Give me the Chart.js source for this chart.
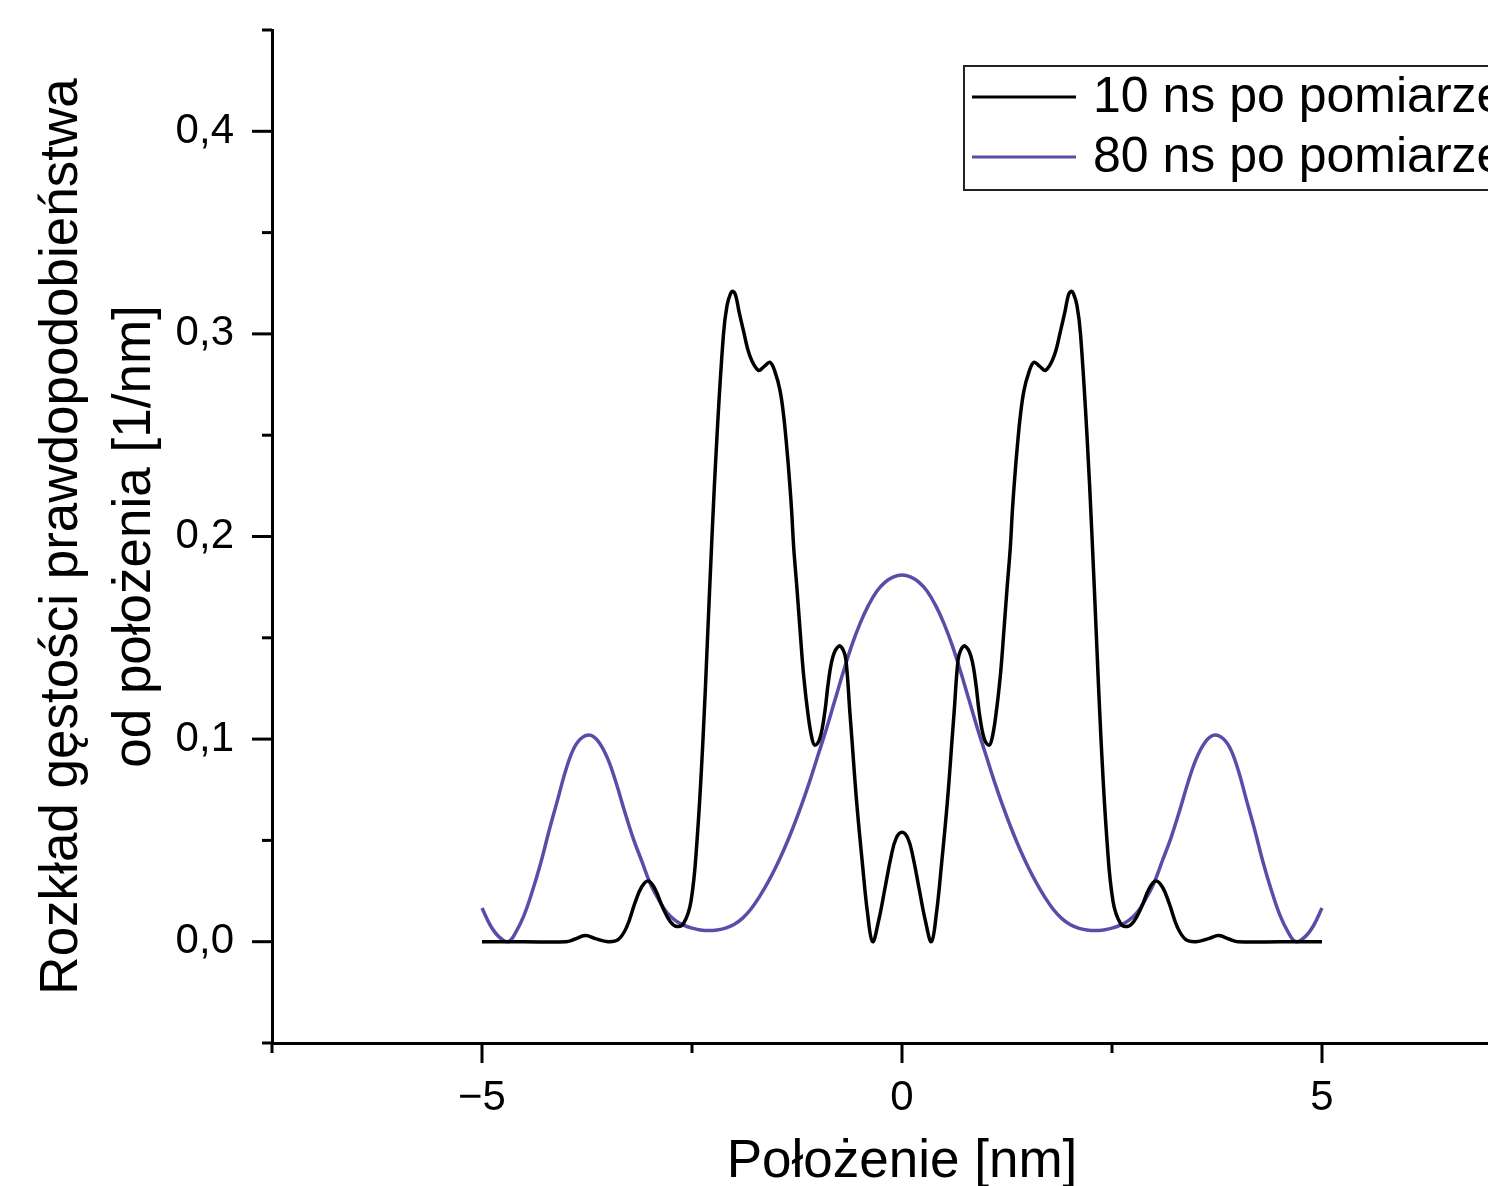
<!DOCTYPE html>
<html>
<head>
<meta charset="utf-8">
<script src="https://cdn.jsdelivr.net/npm/chart.js@4.4.1/dist/chart.umd.min.js"></script>
<style>
  html, body { margin: 0; padding: 0; background: #fff; overflow: hidden; }
  #wrap { width: 1560px; height: 1186px; }
</style>
</head>
<body>
<div id="wrap"><canvas id="chart" width="1560" height="1186"></canvas></div>
<script>
// positions [nm] and densities
const xBlack = [
  -5.0, -4.5, -4.0, -3.9, -3.77, -3.65, -3.5, -3.38, -3.28, -3.18, -3.1, -3.02, -2.94, -2.85, -2.76, -2.68, -2.6,
  -2.512, -2.44, -2.369, -2.315, -2.262, -2.202, -2.125, -2.083, -2.04, -2.012, -1.98, -1.94, -1.89, -1.81,
  -1.71, -1.64, -1.571, -1.51, -1.452, -1.41, -1.373, -1.34, -1.313, -1.29, -1.25, -1.214, -1.17, -1.115, -1.07, -1.036,
  -0.98, -0.92, -0.877, -0.82, -0.75, -0.7, -0.667, -0.62, -0.6, -0.54, -0.47, -0.41, -0.35, -0.28, -0.2, -0.13, -0.07, 0,
  0.07, 0.13, 0.2, 0.28, 0.35, 0.41, 0.47, 0.54, 0.6, 0.62, 0.667, 0.7, 0.75, 0.82, 0.877, 0.92, 0.98,
  1.036, 1.07, 1.115, 1.17, 1.214, 1.25, 1.29, 1.313, 1.34, 1.373, 1.41, 1.452, 1.51, 1.571, 1.64, 1.71,
  1.81, 1.89, 1.94, 1.98, 2.012, 2.04, 2.083, 2.125, 2.202, 2.262, 2.315, 2.369, 2.44, 2.512,
  2.6, 2.68, 2.76, 2.85, 2.94, 3.02, 3.1, 3.18, 3.28, 3.38, 3.5, 3.65, 3.77, 3.9, 4.0, 4.5, 5.0
];
const ns10 = [
  0, 0, 0, 0.0012, 0.003, 0.0015, 0, 0.001, 0.007, 0.019, 0.027, 0.030, 0.026, 0.017, 0.010, 0.0075, 0.009,
  0.02, 0.05, 0.1, 0.15, 0.2, 0.25, 0.3, 0.314, 0.32, 0.321, 0.319, 0.311, 0.302, 0.289,
  0.282, 0.284, 0.286, 0.281, 0.272, 0.26, 0.2445, 0.228, 0.212, 0.195, 0.174, 0.154, 0.131, 0.111, 0.1, 0.097,
  0.100, 0.113, 0.128, 0.141, 0.146, 0.144, 0.139, 0.113, 0.102, 0.069, 0.038, 0.014, 0, 0.010, 0.027, 0.042, 0.051, 0.054,
  0.051, 0.042, 0.027, 0.010, 0, 0.014, 0.038, 0.069, 0.102, 0.113, 0.139, 0.144, 0.146, 0.141, 0.128, 0.113, 0.100,
  0.097, 0.1, 0.111, 0.131, 0.154, 0.174, 0.195, 0.212, 0.228, 0.2445, 0.26, 0.272, 0.281, 0.286, 0.284, 0.282,
  0.289, 0.302, 0.311, 0.319, 0.321, 0.32, 0.314, 0.3, 0.25, 0.2, 0.15, 0.1, 0.05, 0.02,
  0.009, 0.0075, 0.010, 0.017, 0.026, 0.030, 0.027, 0.019, 0.007, 0.001, 0, 0.0015, 0.003, 0.0012, 0, 0, 0
];

const xBlue = [
  -5.0, -4.9, -4.8, -4.69, -4.6, -4.5, -4.4, -4.3, -4.2, -4.1, -4.0, -3.9, -3.8, -3.7, -3.6,
  -3.5, -3.4, -3.3, -3.2, -3.1, -3.0, -2.9, -2.8, -2.7, -2.6, -2.5, -2.4, -2.3, -2.2, -2.1,
  -2.0, -1.9, -1.8, -1.7, -1.6, -1.5, -1.4, -1.3, -1.2, -1.1, -1.0, -0.9, -0.8, -0.7, -0.6,
  -0.5, -0.4, -0.3, -0.2, -0.1, 0,
  0.1, 0.2, 0.3, 0.4, 0.5, 0.6, 0.7, 0.8, 0.9, 1.0, 1.1, 1.2, 1.3, 1.4, 1.5,
  1.6, 1.7, 1.8, 1.9, 2.0, 2.1, 2.2, 2.3, 2.4, 2.5, 2.6, 2.7, 2.8, 2.9, 3.0,
  3.1, 3.2, 3.3, 3.4, 3.5, 3.6, 3.7, 3.8, 3.9, 4.0, 4.1, 4.2, 4.3, 4.4,
  4.5, 4.6, 4.69, 4.8, 4.9, 5.0
];
const ns80 = [
  0.0166, 0.008, 0.0025, 0, 0.0045, 0.013, 0.025, 0.039, 0.055, 0.070, 0.085, 0.096, 0.101, 0.1018, 0.098,
  0.09, 0.078, 0.064, 0.051, 0.04, 0.029, 0.021, 0.0145, 0.0105, 0.0082, 0.0067, 0.0058, 0.0055, 0.0058, 0.0067,
  0.0085, 0.0115, 0.016, 0.022, 0.029, 0.037, 0.046, 0.056, 0.067, 0.079, 0.092, 0.105, 0.119, 0.133, 0.146,
  0.157, 0.166, 0.173, 0.1775, 0.1801, 0.181,
  0.1801, 0.1775, 0.173, 0.166, 0.157, 0.146, 0.133, 0.119, 0.105, 0.092, 0.079, 0.067, 0.056, 0.046, 0.037,
  0.029, 0.022, 0.016, 0.0115, 0.0085, 0.0067, 0.0058, 0.0055, 0.0058, 0.0067, 0.0082, 0.0105, 0.0145, 0.021, 0.029,
  0.04, 0.051, 0.064, 0.078, 0.09, 0.098, 0.1018, 0.101, 0.096, 0.085, 0.070, 0.055, 0.039, 0.025,
  0.013, 0.0045, 0, 0.0025, 0.008, 0.0166
];

const seriesLabels = ['10 ns po pomiarze', '80 ns po pomiarze'];
const seriesColors = ['#000000', 'rgb(88, 78, 168)'];

const FONT = '"Liberation Sans", Arial, sans-serif';

function toPoints(xs, ys) {
  return xs.map((x, i) => ({ x: x, y: ys[i] }));
}

// outward ticks, major longer than minor
const axisTicks = {
  id: 'axisTicks',
  afterDraw(chart) {
    const { ctx, chartArea } = chart;
    const xs = chart.scales.x, ys = chart.scales.y;
    ctx.save();
    ctx.strokeStyle = '#000';
    ctx.lineWidth = 3;
    ys.ticks.forEach(t => {
      const py = ys.getPixelForValue(t.value);
      const len = t.label !== '' ? 20 : 10;
      ctx.beginPath();
      ctx.moveTo(chartArea.left - len, py);
      ctx.lineTo(chartArea.left, py);
      ctx.stroke();
    });
    xs.ticks.forEach(t => {
      const px = xs.getPixelForValue(t.value);
      const len = t.label !== '' ? 20 : 10;
      ctx.beginPath();
      ctx.moveTo(px, chartArea.bottom);
      ctx.lineTo(px, chartArea.bottom + len);
      ctx.stroke();
    });
    ctx.restore();
  }
};

// Origin-style legend box in the upper right
const boxLegend = {
  id: 'boxLegend',
  afterDraw(chart) {
    const { ctx } = chart;
    const left = 964, top = 66, rowH = 60;
    ctx.save();
    ctx.strokeStyle = '#222';
    ctx.lineWidth = 2;
    ctx.strokeRect(left, top, 570, 124);
    ctx.font = '50px ' + FONT;
    ctx.textBaseline = 'middle';
    ctx.fillStyle = '#000';
    chart.data.datasets.forEach((ds, i) => {
      const cy = top + 31 + i * rowH;
      ctx.strokeStyle = ds.borderColor;
      ctx.lineWidth = 3;
      ctx.beginPath();
      ctx.moveTo(972, cy);
      ctx.lineTo(1076, cy);
      ctx.stroke();
      ctx.fillText(ds.label, 1093, cy + 1);
    });
    ctx.restore();
  }
};

new Chart(document.getElementById('chart'), {
  type: 'line',
  data: {
    datasets: [
      {
        label: seriesLabels[0],
        data: toPoints(xBlack, ns10),
        borderColor: seriesColors[0],
        borderWidth: 3.5,
        pointRadius: 0,
        fill: false,
        tension: 0.4
      },
      {
        label: seriesLabels[1],
        data: toPoints(xBlue, ns80),
        borderColor: seriesColors[1],
        borderWidth: 3.5,
        pointRadius: 0,
        fill: false,
        tension: 0.4
      }
    ]
  },
  options: {
    responsive: false,
    animation: false,
    layout: { padding: { top: 30, right: 28, left: 0, bottom: 0 } },
    plugins: {
      legend: { display: false },
      tooltip: { enabled: false }
    },
    scales: {
      x: {
        type: 'linear',
        min: -7.5,
        max: 7.5,
        afterFit: s => { s.height = 143; s.paddingLeft = 0; s.paddingRight = 0; },
        grid: { display: false },
        border: { display: true, color: '#000', width: 3 },
        ticks: {
          stepSize: 2.5,
          autoSkip: false,
          maxRotation: 0,
          padding: 22,
          color: '#000',
          font: { family: FONT, size: 42 },
          callback: v => (v % 5 === 0 ? (v < 0 ? '\u2212' + Math.abs(v) : String(v)) : '')
        },
        title: {
          display: true,
          text: 'Położenie [nm]',
          color: '#000',
          font: { family: FONT, size: 53, lineHeight: 0.9 },
          padding: { top: 0, bottom: 0 }
        }
      },
      y: {
        type: 'linear',
        min: -0.05,
        max: 0.45,
        afterFit: s => { s.width = 272; s.paddingTop = 0; s.paddingBottom = 0; },
        grid: { display: false },
        border: { display: true, color: '#000', width: 3 },
        ticks: {
          stepSize: 0.05,
          autoSkip: false,
          padding: 30,
          color: '#000',
          font: { family: FONT, size: 42 },
          callback: v => (Math.abs(Math.round(v * 20)) % 2 === 0 ? v.toFixed(1).replace('.', ',') : '')
        },
        title: {
          display: true,
          text: ['Rozkład gęstości prawdopodobieństwa', 'od położenia [1/nm]'],
          color: '#000',
          font: { family: FONT, size: 53, lineHeight: 1.38 },
          padding: { top: 26, bottom: 0 }
        }
      }
    }
  },
  plugins: [axisTicks, boxLegend]
});
</script>
</body>
</html>
